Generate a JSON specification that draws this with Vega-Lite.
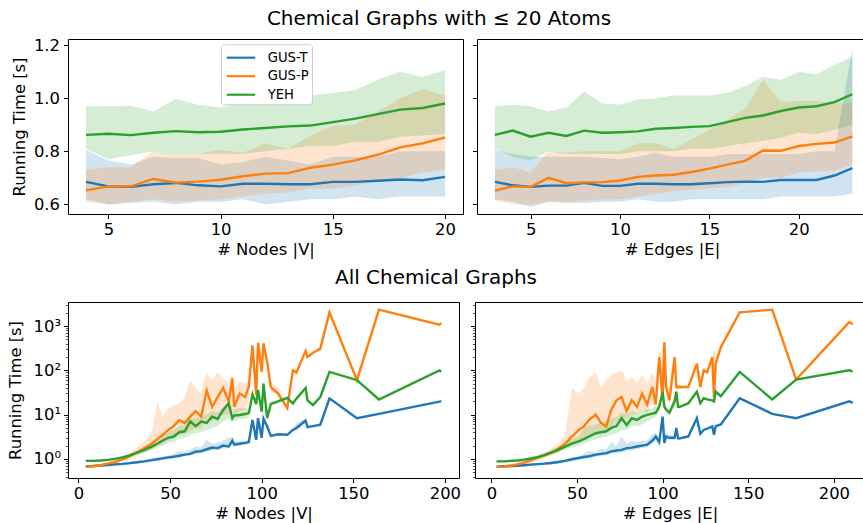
{
  "$schema": "https://vega.github.io/schema/vega-lite/v6.json",
  "padding": {"left": 6, "top": 8, "right": 0, "bottom": 0},
  "config": {
    "font": "DejaVu Sans",
    "view": {"stroke": "#000", "strokeWidth": 1},
    "axis": {
      "grid": false, "domain": false, "tickColor": "#000", "tickSize": 4.5, "tickWidth": 1,
      "labelFont": "DejaVu Sans", "labelFontSize": 16.4, "labelColor": "#000", "labelFlush": false, "labelOverlap": false,
      "titleFont": "DejaVu Sans", "titleFontSize": 16.4, "titleFontWeight": "normal", "titleColor": "#000"
    },
    "axisX": {"labelPadding": 3, "titlePadding": 4},
    "axisY": {"labelPadding": 4, "titlePadding": 6.4},
    "legend": {"labelFont": "DejaVu Sans"},
    "title": {"font": "DejaVu Sans", "fontSize": 20, "fontWeight": "normal", "color": "#000", "anchor": "middle", "offset": 8}
  },
  "datasets": {
    "nodes20": [
      {"method": "GUS-T", "x": 4, "mean": 0.685, "lo": 0.62, "hi": 0.805},
      {"method": "GUS-T", "x": 5, "mean": 0.668, "lo": 0.60, "hi": 0.765},
      {"method": "GUS-T", "x": 6, "mean": 0.666, "lo": 0.605, "hi": 0.75},
      {"method": "GUS-T", "x": 7, "mean": 0.676, "lo": 0.61, "hi": 0.78},
      {"method": "GUS-T", "x": 8, "mean": 0.681, "lo": 0.60, "hi": 0.775},
      {"method": "GUS-T", "x": 9, "mean": 0.672, "lo": 0.61, "hi": 0.775},
      {"method": "GUS-T", "x": 10, "mean": 0.668, "lo": 0.61, "hi": 0.75},
      {"method": "GUS-T", "x": 11, "mean": 0.678, "lo": 0.62, "hi": 0.76},
      {"method": "GUS-T", "x": 12, "mean": 0.678, "lo": 0.60, "hi": 0.78},
      {"method": "GUS-T", "x": 13, "mean": 0.676, "lo": 0.61, "hi": 0.765},
      {"method": "GUS-T", "x": 14, "mean": 0.676, "lo": 0.62, "hi": 0.75},
      {"method": "GUS-T", "x": 15, "mean": 0.685, "lo": 0.62, "hi": 0.78},
      {"method": "GUS-T", "x": 16, "mean": 0.685, "lo": 0.63, "hi": 0.78},
      {"method": "GUS-T", "x": 17, "mean": 0.689, "lo": 0.62, "hi": 0.78},
      {"method": "GUS-T", "x": 18, "mean": 0.694, "lo": 0.63, "hi": 0.80},
      {"method": "GUS-T", "x": 19, "mean": 0.691, "lo": 0.63, "hi": 0.80},
      {"method": "GUS-T", "x": 20, "mean": 0.704, "lo": 0.63, "hi": 0.80},
      {"method": "GUS-P", "x": 4, "mean": 0.653, "lo": 0.61, "hi": 0.73},
      {"method": "GUS-P", "x": 5, "mean": 0.668, "lo": 0.60, "hi": 0.74},
      {"method": "GUS-P", "x": 6, "mean": 0.668, "lo": 0.61, "hi": 0.74},
      {"method": "GUS-P", "x": 7, "mean": 0.696, "lo": 0.62, "hi": 0.80},
      {"method": "GUS-P", "x": 8, "mean": 0.682, "lo": 0.61, "hi": 0.785},
      {"method": "GUS-P", "x": 9, "mean": 0.686, "lo": 0.615, "hi": 0.79},
      {"method": "GUS-P", "x": 10, "mean": 0.693, "lo": 0.62, "hi": 0.805},
      {"method": "GUS-P", "x": 11, "mean": 0.706, "lo": 0.63, "hi": 0.795},
      {"method": "GUS-P", "x": 12, "mean": 0.716, "lo": 0.64, "hi": 0.83},
      {"method": "GUS-P", "x": 13, "mean": 0.718, "lo": 0.645, "hi": 0.81},
      {"method": "GUS-P", "x": 14, "mean": 0.738, "lo": 0.66, "hi": 0.86},
      {"method": "GUS-P", "x": 15, "mean": 0.75, "lo": 0.66, "hi": 0.895},
      {"method": "GUS-P", "x": 16, "mean": 0.766, "lo": 0.67, "hi": 0.90},
      {"method": "GUS-P", "x": 17, "mean": 0.787, "lo": 0.69, "hi": 0.95},
      {"method": "GUS-P", "x": 18, "mean": 0.815, "lo": 0.70, "hi": 1.0},
      {"method": "GUS-P", "x": 19, "mean": 0.83, "lo": 0.72, "hi": 1.035},
      {"method": "GUS-P", "x": 20, "mean": 0.852, "lo": 0.73, "hi": 1.01},
      {"method": "YEH", "x": 4, "mean": 0.862, "lo": 0.81, "hi": 0.97},
      {"method": "YEH", "x": 5, "mean": 0.866, "lo": 0.77, "hi": 0.97},
      {"method": "YEH", "x": 6, "mean": 0.861, "lo": 0.785, "hi": 0.972},
      {"method": "YEH", "x": 7, "mean": 0.87, "lo": 0.80, "hi": 0.95},
      {"method": "YEH", "x": 8, "mean": 0.876, "lo": 0.785, "hi": 0.997},
      {"method": "YEH", "x": 9, "mean": 0.872, "lo": 0.79, "hi": 0.975},
      {"method": "YEH", "x": 10, "mean": 0.874, "lo": 0.79, "hi": 0.965},
      {"method": "YEH", "x": 11, "mean": 0.882, "lo": 0.79, "hi": 0.99},
      {"method": "YEH", "x": 12, "mean": 0.888, "lo": 0.80, "hi": 1.0},
      {"method": "YEH", "x": 13, "mean": 0.894, "lo": 0.81, "hi": 1.01},
      {"method": "YEH", "x": 14, "mean": 0.897, "lo": 0.82, "hi": 1.01},
      {"method": "YEH", "x": 15, "mean": 0.91, "lo": 0.82, "hi": 1.02},
      {"method": "YEH", "x": 16, "mean": 0.923, "lo": 0.835, "hi": 1.03},
      {"method": "YEH", "x": 17, "mean": 0.94, "lo": 0.835, "hi": 1.07},
      {"method": "YEH", "x": 18, "mean": 0.957, "lo": 0.855, "hi": 1.1},
      {"method": "YEH", "x": 19, "mean": 0.963, "lo": 0.86, "hi": 1.08},
      {"method": "YEH", "x": 20, "mean": 0.98, "lo": 0.865, "hi": 1.105}
    ],
    "edges20": [
      {"method": "GUS-T", "x": 3, "mean": 0.685, "lo": 0.62, "hi": 0.805},
      {"method": "GUS-T", "x": 4, "mean": 0.672, "lo": 0.61, "hi": 0.79},
      {"method": "GUS-T", "x": 5, "mean": 0.666, "lo": 0.59, "hi": 0.78},
      {"method": "GUS-T", "x": 6, "mean": 0.671, "lo": 0.61, "hi": 0.78},
      {"method": "GUS-T", "x": 7, "mean": 0.671, "lo": 0.605, "hi": 0.78},
      {"method": "GUS-T", "x": 8, "mean": 0.681, "lo": 0.605, "hi": 0.78},
      {"method": "GUS-T", "x": 9, "mean": 0.67, "lo": 0.61, "hi": 0.775},
      {"method": "GUS-T", "x": 10, "mean": 0.67, "lo": 0.61, "hi": 0.77},
      {"method": "GUS-T", "x": 11, "mean": 0.678, "lo": 0.62, "hi": 0.78},
      {"method": "GUS-T", "x": 12, "mean": 0.678, "lo": 0.61, "hi": 0.795},
      {"method": "GUS-T", "x": 13, "mean": 0.676, "lo": 0.61, "hi": 0.78},
      {"method": "GUS-T", "x": 14, "mean": 0.676, "lo": 0.62, "hi": 0.78},
      {"method": "GUS-T", "x": 15, "mean": 0.68, "lo": 0.62, "hi": 0.78},
      {"method": "GUS-T", "x": 16, "mean": 0.684, "lo": 0.62, "hi": 0.79},
      {"method": "GUS-T", "x": 17, "mean": 0.686, "lo": 0.62, "hi": 0.79},
      {"method": "GUS-T", "x": 18, "mean": 0.685, "lo": 0.62, "hi": 0.79},
      {"method": "GUS-T", "x": 19, "mean": 0.692, "lo": 0.63, "hi": 0.79},
      {"method": "GUS-T", "x": 20, "mean": 0.692, "lo": 0.63, "hi": 0.79},
      {"method": "GUS-T", "x": 21, "mean": 0.692, "lo": 0.63, "hi": 0.80},
      {"method": "GUS-T", "x": 22, "mean": 0.709, "lo": 0.63, "hi": 0.80},
      {"method": "GUS-T", "x": 23, "mean": 0.737, "lo": 0.64, "hi": 1.19},
      {"method": "GUS-P", "x": 3, "mean": 0.652, "lo": 0.615, "hi": 0.73},
      {"method": "GUS-P", "x": 4, "mean": 0.668, "lo": 0.60, "hi": 0.74},
      {"method": "GUS-P", "x": 5, "mean": 0.666, "lo": 0.60, "hi": 0.72},
      {"method": "GUS-P", "x": 6, "mean": 0.70, "lo": 0.61, "hi": 0.80},
      {"method": "GUS-P", "x": 7, "mean": 0.68, "lo": 0.61, "hi": 0.795},
      {"method": "GUS-P", "x": 8, "mean": 0.683, "lo": 0.615, "hi": 0.80},
      {"method": "GUS-P", "x": 9, "mean": 0.684, "lo": 0.62, "hi": 0.80},
      {"method": "GUS-P", "x": 10, "mean": 0.69, "lo": 0.62, "hi": 0.80},
      {"method": "GUS-P", "x": 11, "mean": 0.704, "lo": 0.63, "hi": 0.83},
      {"method": "GUS-P", "x": 12, "mean": 0.709, "lo": 0.64, "hi": 0.83},
      {"method": "GUS-P", "x": 13, "mean": 0.712, "lo": 0.65, "hi": 0.81},
      {"method": "GUS-P", "x": 14, "mean": 0.722, "lo": 0.655, "hi": 0.845},
      {"method": "GUS-P", "x": 15, "mean": 0.735, "lo": 0.66, "hi": 0.88},
      {"method": "GUS-P", "x": 16, "mean": 0.75, "lo": 0.665, "hi": 0.92},
      {"method": "GUS-P", "x": 17, "mean": 0.764, "lo": 0.68, "hi": 0.96},
      {"method": "GUS-P", "x": 18, "mean": 0.803, "lo": 0.70, "hi": 1.07},
      {"method": "GUS-P", "x": 19, "mean": 0.802, "lo": 0.70, "hi": 0.985},
      {"method": "GUS-P", "x": 20, "mean": 0.82, "lo": 0.72, "hi": 0.99},
      {"method": "GUS-P", "x": 21, "mean": 0.828, "lo": 0.725, "hi": 0.99},
      {"method": "GUS-P", "x": 22, "mean": 0.833, "lo": 0.725, "hi": 0.98},
      {"method": "GUS-P", "x": 23, "mean": 0.856, "lo": 0.75, "hi": 0.985},
      {"method": "YEH", "x": 3, "mean": 0.862, "lo": 0.81, "hi": 0.97},
      {"method": "YEH", "x": 4, "mean": 0.878, "lo": 0.78, "hi": 0.975},
      {"method": "YEH", "x": 5, "mean": 0.855, "lo": 0.765, "hi": 0.97},
      {"method": "YEH", "x": 6, "mean": 0.87, "lo": 0.80, "hi": 0.95},
      {"method": "YEH", "x": 7, "mean": 0.858, "lo": 0.79, "hi": 0.965},
      {"method": "YEH", "x": 8, "mean": 0.878, "lo": 0.79, "hi": 1.025},
      {"method": "YEH", "x": 9, "mean": 0.87, "lo": 0.79, "hi": 0.98},
      {"method": "YEH", "x": 10, "mean": 0.872, "lo": 0.79, "hi": 0.975},
      {"method": "YEH", "x": 11, "mean": 0.875, "lo": 0.80, "hi": 0.995},
      {"method": "YEH", "x": 12, "mean": 0.885, "lo": 0.80, "hi": 1.0},
      {"method": "YEH", "x": 13, "mean": 0.888, "lo": 0.80, "hi": 1.01},
      {"method": "YEH", "x": 14, "mean": 0.892, "lo": 0.81, "hi": 1.01},
      {"method": "YEH", "x": 15, "mean": 0.895, "lo": 0.81, "hi": 1.01},
      {"method": "YEH", "x": 16, "mean": 0.91, "lo": 0.82, "hi": 1.02},
      {"method": "YEH", "x": 17, "mean": 0.926, "lo": 0.83, "hi": 1.045},
      {"method": "YEH", "x": 18, "mean": 0.935, "lo": 0.84, "hi": 1.08},
      {"method": "YEH", "x": 19, "mean": 0.952, "lo": 0.85, "hi": 1.07},
      {"method": "YEH", "x": 20, "mean": 0.965, "lo": 0.87, "hi": 1.1},
      {"method": "YEH", "x": 21, "mean": 0.97, "lo": 0.865, "hi": 1.09},
      {"method": "YEH", "x": 22, "mean": 0.985, "lo": 0.88, "hi": 1.125},
      {"method": "YEH", "x": 23, "mean": 1.015, "lo": 0.90, "hi": 1.155}
    ],
    "nodesAll": [
      {"method": "GUS-T", "x": 4, "mean": 0.68, "lo": 0.63, "hi": 0.73},
      {"method": "GUS-T", "x": 8, "mean": 0.69, "lo": 0.64, "hi": 0.74},
      {"method": "GUS-T", "x": 12, "mean": 0.71, "lo": 0.66, "hi": 0.76},
      {"method": "GUS-T", "x": 16, "mean": 0.73, "lo": 0.68, "hi": 0.78},
      {"method": "GUS-T", "x": 20, "mean": 0.75, "lo": 0.70, "hi": 0.80},
      {"method": "GUS-T", "x": 24, "mean": 0.77, "lo": 0.72, "hi": 0.83},
      {"method": "GUS-T", "x": 28, "mean": 0.80, "lo": 0.75, "hi": 0.86},
      {"method": "GUS-T", "x": 32, "mean": 0.84, "lo": 0.78, "hi": 0.90},
      {"method": "GUS-T", "x": 36, "mean": 0.88, "lo": 0.82, "hi": 0.95},
      {"method": "GUS-T", "x": 40, "mean": 0.94, "lo": 0.87, "hi": 1.02},
      {"method": "GUS-T", "x": 43, "mean": 0.98, "lo": 0.90, "hi": 1.07},
      {"method": "GUS-T", "x": 46, "mean": 1.03, "lo": 0.95, "hi": 1.13},
      {"method": "GUS-T", "x": 49, "mean": 1.08, "lo": 1.0, "hi": 1.2},
      {"method": "GUS-T", "x": 52, "mean": 1.12, "lo": 1.03, "hi": 1.3},
      {"method": "GUS-T", "x": 55, "mean": 1.18, "lo": 1.08, "hi": 1.5},
      {"method": "GUS-T", "x": 58, "mean": 1.25, "lo": 1.15, "hi": 1.45},
      {"method": "GUS-T", "x": 61, "mean": 1.3, "lo": 1.2, "hi": 1.6},
      {"method": "GUS-T", "x": 64, "mean": 1.45, "lo": 1.3, "hi": 1.9},
      {"method": "GUS-T", "x": 67, "mean": 1.5, "lo": 1.35, "hi": 1.8},
      {"method": "GUS-T", "x": 70, "mean": 1.65, "lo": 1.45, "hi": 2.7},
      {"method": "GUS-T", "x": 73, "mean": 1.8, "lo": 1.6, "hi": 2.2},
      {"method": "GUS-T", "x": 76, "mean": 1.75, "lo": 1.55, "hi": 2.3},
      {"method": "GUS-T", "x": 79, "mean": 2.0, "lo": 1.75, "hi": 2.6},
      {"method": "GUS-T", "x": 82, "mean": 1.9, "lo": 1.7, "hi": 3.0},
      {"method": "GUS-T", "x": 84, "mean": 2.6, "lo": 2.1, "hi": 3.2},
      {"method": "GUS-T", "x": 85, "mean": 2.1, "lo": 1.9, "hi": 2.5},
      {"method": "GUS-T", "x": 88, "mean": 2.2, "lo": 2.0, "hi": 2.5},
      {"method": "GUS-T", "x": 91, "mean": 2.3, "lo": 2.1, "hi": 2.6},
      {"method": "GUS-T", "x": 93, "mean": 2.4, "lo": 2.2, "hi": 2.7},
      {"method": "GUS-T", "x": 95, "mean": 7.6, "lo": 6.5, "hi": 8.5},
      {"method": "GUS-T", "x": 97, "mean": 2.7, "lo": 2.4, "hi": 3.0},
      {"method": "GUS-T", "x": 98, "mean": 8.3, "lo": 7.5, "hi": 9},
      {"method": "GUS-T", "x": 100, "mean": 3.0, "lo": 2.7, "hi": 3.4},
      {"method": "GUS-T", "x": 101, "mean": 8.1, "lo": 7.3, "hi": 9},
      {"method": "GUS-T", "x": 103, "mean": 5.4, "lo": 5.0, "hi": 6.0},
      {"method": "GUS-T", "x": 105, "mean": 3.3, "lo": 3.1, "hi": 3.5},
      {"method": "GUS-T", "x": 109, "mean": 3.6, "lo": 3.4, "hi": 3.8},
      {"method": "GUS-T", "x": 114, "mean": 3.5, "lo": 3.3, "hi": 3.7},
      {"method": "GUS-T", "x": 117, "mean": 4.5, "lo": 4.2, "hi": 4.8},
      {"method": "GUS-T", "x": 119, "mean": 5.0, "lo": 4.4, "hi": 6.5},
      {"method": "GUS-T", "x": 124, "mean": 7.3, "lo": 6.5, "hi": 8.3},
      {"method": "GUS-T", "x": 125, "mean": 5.2, "lo": 5.0, "hi": 5.5},
      {"method": "GUS-T", "x": 128, "mean": 5.5, "lo": 5.3, "hi": 5.7},
      {"method": "GUS-T", "x": 132, "mean": 5.9, "lo": 5.7, "hi": 6.1},
      {"method": "GUS-T", "x": 137, "mean": 23.3, "lo": 22, "hi": 24.5},
      {"method": "GUS-T", "x": 152, "mean": 8.3, "lo": 8.0, "hi": 8.6},
      {"method": "GUS-T", "x": 164, "mean": 10.4, "lo": 10.2, "hi": 10.6},
      {"method": "GUS-T", "x": 197, "mean": 19.6, "lo": 19, "hi": 20.2},
      {"method": "GUS-T", "x": 198, "mean": 20, "lo": 20, "hi": 20},
      {"method": "GUS-P", "x": 4, "mean": 0.66, "lo": 0.62, "hi": 0.70},
      {"method": "GUS-P", "x": 8, "mean": 0.68, "lo": 0.64, "hi": 0.72},
      {"method": "GUS-P", "x": 12, "mean": 0.72, "lo": 0.67, "hi": 0.77},
      {"method": "GUS-P", "x": 16, "mean": 0.78, "lo": 0.72, "hi": 0.85},
      {"method": "GUS-P", "x": 20, "mean": 0.85, "lo": 0.78, "hi": 0.95},
      {"method": "GUS-P", "x": 24, "mean": 0.98, "lo": 0.88, "hi": 1.12},
      {"method": "GUS-P", "x": 28, "mean": 1.15, "lo": 1.0, "hi": 1.4},
      {"method": "GUS-P", "x": 32, "mean": 1.4, "lo": 1.15, "hi": 1.8},
      {"method": "GUS-P", "x": 36, "mean": 1.75, "lo": 1.4, "hi": 2.5},
      {"method": "GUS-P", "x": 40, "mean": 2.2, "lo": 1.6, "hi": 4},
      {"method": "GUS-P", "x": 43, "mean": 2.8, "lo": 1.9, "hi": 20},
      {"method": "GUS-P", "x": 46, "mean": 3.5, "lo": 2.2, "hi": 9},
      {"method": "GUS-P", "x": 49, "mean": 4.5, "lo": 2.6, "hi": 14},
      {"method": "GUS-P", "x": 52, "mean": 5.5, "lo": 3.0, "hi": 16},
      {"method": "GUS-P", "x": 55, "mean": 7.5, "lo": 3.5, "hi": 18},
      {"method": "GUS-P", "x": 58, "mean": 6.5, "lo": 3.8, "hi": 25},
      {"method": "GUS-P", "x": 61, "mean": 9, "lo": 4.2, "hi": 60},
      {"method": "GUS-P", "x": 64, "mean": 12, "lo": 5, "hi": 40},
      {"method": "GUS-P", "x": 67, "mean": 9, "lo": 5, "hi": 30},
      {"method": "GUS-P", "x": 70, "mean": 35, "lo": 8, "hi": 90},
      {"method": "GUS-P", "x": 73, "mean": 15, "lo": 7, "hi": 60},
      {"method": "GUS-P", "x": 76, "mean": 25, "lo": 9, "hi": 90},
      {"method": "GUS-P", "x": 79, "mean": 40, "lo": 10, "hi": 70},
      {"method": "GUS-P", "x": 82, "mean": 20, "lo": 10, "hi": 50},
      {"method": "GUS-P", "x": 84, "mean": 66, "lo": 15, "hi": 90},
      {"method": "GUS-P", "x": 85, "mean": 15, "lo": 9, "hi": 40},
      {"method": "GUS-P", "x": 88, "mean": 30, "lo": 12, "hi": 55},
      {"method": "GUS-P", "x": 91, "mean": 25, "lo": 13, "hi": 50},
      {"method": "GUS-P", "x": 93, "mean": 43, "lo": 18, "hi": 60},
      {"method": "GUS-P", "x": 95, "mean": 366, "lo": 330, "hi": 390},
      {"method": "GUS-P", "x": 97, "mean": 28, "lo": 24, "hi": 32},
      {"method": "GUS-P", "x": 98, "mean": 420, "lo": 390, "hi": 440},
      {"method": "GUS-P", "x": 100, "mean": 93, "lo": 85, "hi": 100},
      {"method": "GUS-P", "x": 101, "mean": 410, "lo": 380, "hi": 430},
      {"method": "GUS-P", "x": 103, "mean": 155, "lo": 140, "hi": 170},
      {"method": "GUS-P", "x": 105, "mean": 42, "lo": 35, "hi": 55},
      {"method": "GUS-P", "x": 109, "mean": 30, "lo": 25, "hi": 40},
      {"method": "GUS-P", "x": 114, "mean": 14, "lo": 13, "hi": 16},
      {"method": "GUS-P", "x": 117, "mean": 100, "lo": 85, "hi": 110},
      {"method": "GUS-P", "x": 119, "mean": 90, "lo": 75, "hi": 100},
      {"method": "GUS-P", "x": 124, "mean": 275, "lo": 250, "hi": 290},
      {"method": "GUS-P", "x": 125, "mean": 200, "lo": 190, "hi": 210},
      {"method": "GUS-P", "x": 128, "mean": 250, "lo": 240, "hi": 260},
      {"method": "GUS-P", "x": 132, "mean": 310, "lo": 300, "hi": 320},
      {"method": "GUS-P", "x": 137, "mean": 2040, "lo": 2000, "hi": 2080},
      {"method": "GUS-P", "x": 152, "mean": 60, "lo": 58, "hi": 62},
      {"method": "GUS-P", "x": 164, "mean": 2350, "lo": 2350, "hi": 2350},
      {"method": "GUS-P", "x": 197, "mean": 1070, "lo": 1050, "hi": 1090},
      {"method": "GUS-P", "x": 198, "mean": 1180, "lo": 1180, "hi": 1180},
      {"method": "YEH", "x": 4, "mean": 0.9, "lo": 0.86, "hi": 0.95},
      {"method": "YEH", "x": 8, "mean": 0.9, "lo": 0.86, "hi": 0.95},
      {"method": "YEH", "x": 12, "mean": 0.92, "lo": 0.87, "hi": 0.97},
      {"method": "YEH", "x": 16, "mean": 0.95, "lo": 0.9, "hi": 1.0},
      {"method": "YEH", "x": 20, "mean": 1.0, "lo": 0.94, "hi": 1.06},
      {"method": "YEH", "x": 24, "mean": 1.08, "lo": 1.0, "hi": 1.15},
      {"method": "YEH", "x": 28, "mean": 1.2, "lo": 1.1, "hi": 1.3},
      {"method": "YEH", "x": 32, "mean": 1.38, "lo": 1.25, "hi": 1.5},
      {"method": "YEH", "x": 36, "mean": 1.6, "lo": 1.4, "hi": 1.8},
      {"method": "YEH", "x": 40, "mean": 1.9, "lo": 1.6, "hi": 2.3},
      {"method": "YEH", "x": 43, "mean": 2.2, "lo": 1.8, "hi": 2.8},
      {"method": "YEH", "x": 46, "mean": 2.6, "lo": 2.0, "hi": 3.4},
      {"method": "YEH", "x": 49, "mean": 3.0, "lo": 2.3, "hi": 4},
      {"method": "YEH", "x": 52, "mean": 3.2, "lo": 2.4, "hi": 4.5},
      {"method": "YEH", "x": 55, "mean": 4.0, "lo": 2.8, "hi": 5.5},
      {"method": "YEH", "x": 58, "mean": 4.2, "lo": 3.0, "hi": 6},
      {"method": "YEH", "x": 61, "mean": 7, "lo": 3.5, "hi": 8.5},
      {"method": "YEH", "x": 64, "mean": 5.5, "lo": 3.8, "hi": 8},
      {"method": "YEH", "x": 67, "mean": 7, "lo": 4, "hi": 9},
      {"method": "YEH", "x": 70, "mean": 6.5, "lo": 4.5, "hi": 10},
      {"method": "YEH", "x": 73, "mean": 9, "lo": 5, "hi": 12},
      {"method": "YEH", "x": 76, "mean": 8, "lo": 5.5, "hi": 11},
      {"method": "YEH", "x": 79, "mean": 12.8, "lo": 7, "hi": 15},
      {"method": "YEH", "x": 82, "mean": 18, "lo": 8, "hi": 20},
      {"method": "YEH", "x": 84, "mean": 8.3, "lo": 7, "hi": 14},
      {"method": "YEH", "x": 85, "mean": 9.5, "lo": 7, "hi": 13},
      {"method": "YEH", "x": 88, "mean": 9.8, "lo": 8, "hi": 14},
      {"method": "YEH", "x": 91, "mean": 10.3, "lo": 8, "hi": 14},
      {"method": "YEH", "x": 93, "mean": 10.8, "lo": 9, "hi": 13},
      {"method": "YEH", "x": 95, "mean": 29, "lo": 26, "hi": 32},
      {"method": "YEH", "x": 97, "mean": 17.4, "lo": 15, "hi": 20},
      {"method": "YEH", "x": 98, "mean": 36, "lo": 33, "hi": 39},
      {"method": "YEH", "x": 100, "mean": 11.7, "lo": 10.5, "hi": 13},
      {"method": "YEH", "x": 101, "mean": 50, "lo": 45, "hi": 55},
      {"method": "YEH", "x": 103, "mean": 8.3, "lo": 7.5, "hi": 9},
      {"method": "YEH", "x": 105, "mean": 17.4, "lo": 16, "hi": 19},
      {"method": "YEH", "x": 109, "mean": 20, "lo": 18, "hi": 22},
      {"method": "YEH", "x": 114, "mean": 24, "lo": 22, "hi": 26},
      {"method": "YEH", "x": 117, "mean": 18, "lo": 17, "hi": 19},
      {"method": "YEH", "x": 119, "mean": 23, "lo": 21, "hi": 25},
      {"method": "YEH", "x": 124, "mean": 40, "lo": 37, "hi": 43},
      {"method": "YEH", "x": 125, "mean": 21, "lo": 20, "hi": 22},
      {"method": "YEH", "x": 128, "mean": 16.5, "lo": 16, "hi": 17},
      {"method": "YEH", "x": 132, "mean": 25, "lo": 24, "hi": 26},
      {"method": "YEH", "x": 137, "mean": 92, "lo": 90, "hi": 95},
      {"method": "YEH", "x": 152, "mean": 60, "lo": 58, "hi": 62},
      {"method": "YEH", "x": 164, "mean": 22, "lo": 22, "hi": 22},
      {"method": "YEH", "x": 197, "mean": 100, "lo": 98, "hi": 102},
      {"method": "YEH", "x": 198, "mean": 92, "lo": 92, "hi": 92}
    ],
    "edgesAll": [
      {"method": "GUS-T", "x": 3, "mean": 0.67, "lo": 0.62, "hi": 0.72},
      {"method": "GUS-T", "x": 7, "mean": 0.68, "lo": 0.63, "hi": 0.73},
      {"method": "GUS-T", "x": 11, "mean": 0.69, "lo": 0.64, "hi": 0.74},
      {"method": "GUS-T", "x": 15, "mean": 0.70, "lo": 0.65, "hi": 0.76},
      {"method": "GUS-T", "x": 19, "mean": 0.72, "lo": 0.67, "hi": 0.78},
      {"method": "GUS-T", "x": 23, "mean": 0.74, "lo": 0.69, "hi": 0.80},
      {"method": "GUS-T", "x": 27, "mean": 0.76, "lo": 0.71, "hi": 0.82},
      {"method": "GUS-T", "x": 31, "mean": 0.78, "lo": 0.72, "hi": 0.85},
      {"method": "GUS-T", "x": 35, "mean": 0.81, "lo": 0.75, "hi": 0.88},
      {"method": "GUS-T", "x": 39, "mean": 0.85, "lo": 0.78, "hi": 0.92},
      {"method": "GUS-T", "x": 43, "mean": 0.90, "lo": 0.82, "hi": 0.98},
      {"method": "GUS-T", "x": 47, "mean": 0.98, "lo": 0.9, "hi": 1.07},
      {"method": "GUS-T", "x": 51, "mean": 1.05, "lo": 0.95, "hi": 1.15},
      {"method": "GUS-T", "x": 54, "mean": 1.1, "lo": 1.0, "hi": 1.3},
      {"method": "GUS-T", "x": 57, "mean": 1.15, "lo": 1.05, "hi": 1.5},
      {"method": "GUS-T", "x": 61, "mean": 1.25, "lo": 1.12, "hi": 1.45},
      {"method": "GUS-T", "x": 64, "mean": 1.3, "lo": 1.17, "hi": 1.7},
      {"method": "GUS-T", "x": 67, "mean": 1.35, "lo": 1.2, "hi": 1.6},
      {"method": "GUS-T", "x": 70, "mean": 1.48, "lo": 1.3, "hi": 2.4},
      {"method": "GUS-T", "x": 73, "mean": 1.55, "lo": 1.35, "hi": 1.9},
      {"method": "GUS-T", "x": 76, "mean": 1.6, "lo": 1.4, "hi": 3.2},
      {"method": "GUS-T", "x": 79, "mean": 1.75, "lo": 1.5, "hi": 2.2},
      {"method": "GUS-T", "x": 82, "mean": 1.8, "lo": 1.55, "hi": 2.6},
      {"method": "GUS-T", "x": 85, "mean": 1.9, "lo": 1.65, "hi": 2.4},
      {"method": "GUS-T", "x": 88, "mean": 2.0, "lo": 1.75, "hi": 2.6},
      {"method": "GUS-T", "x": 91, "mean": 2.1, "lo": 1.85, "hi": 2.6},
      {"method": "GUS-T", "x": 94, "mean": 2.6, "lo": 2.2, "hi": 3.6},
      {"method": "GUS-T", "x": 96, "mean": 3.2, "lo": 2.6, "hi": 4.0},
      {"method": "GUS-T", "x": 98, "mean": 2.4, "lo": 2.1, "hi": 3},
      {"method": "GUS-T", "x": 100, "mean": 9.0, "lo": 7.5, "hi": 10},
      {"method": "GUS-T", "x": 101, "mean": 2.3, "lo": 2.0, "hi": 3},
      {"method": "GUS-T", "x": 102, "mean": 3.2, "lo": 2.8, "hi": 3.8},
      {"method": "GUS-T", "x": 104, "mean": 3.0, "lo": 2.7, "hi": 3.4},
      {"method": "GUS-T", "x": 107, "mean": 3.0, "lo": 2.7, "hi": 3.4},
      {"method": "GUS-T", "x": 108, "mean": 5.0, "lo": 4.5, "hi": 5.5},
      {"method": "GUS-T", "x": 109, "mean": 2.9, "lo": 2.7, "hi": 3.2},
      {"method": "GUS-T", "x": 110, "mean": 2.9, "lo": 2.7, "hi": 3.1},
      {"method": "GUS-T", "x": 115, "mean": 3.2, "lo": 3.0, "hi": 3.4},
      {"method": "GUS-T", "x": 120, "mean": 8.3, "lo": 7.5, "hi": 9},
      {"method": "GUS-T", "x": 122, "mean": 3.7, "lo": 3.4, "hi": 4},
      {"method": "GUS-T", "x": 124, "mean": 4.5, "lo": 4.2, "hi": 4.8},
      {"method": "GUS-T", "x": 126, "mean": 4.8, "lo": 4.5, "hi": 5.1},
      {"method": "GUS-T", "x": 129, "mean": 5.4, "lo": 5.0, "hi": 5.8},
      {"method": "GUS-T", "x": 130, "mean": 3.5, "lo": 3.2, "hi": 3.8},
      {"method": "GUS-T", "x": 131, "mean": 5.5, "lo": 5.1, "hi": 5.9},
      {"method": "GUS-T", "x": 134, "mean": 6.0, "lo": 5.6, "hi": 6.4},
      {"method": "GUS-T", "x": 145, "mean": 23.5, "lo": 22.5, "hi": 24.5},
      {"method": "GUS-T", "x": 164, "mean": 10.4, "lo": 10.2, "hi": 10.6},
      {"method": "GUS-T", "x": 178, "mean": 8.3, "lo": 8.1, "hi": 8.5},
      {"method": "GUS-T", "x": 209, "mean": 20, "lo": 19.5, "hi": 20.5},
      {"method": "GUS-T", "x": 211, "mean": 18.5, "lo": 18.5, "hi": 18.5},
      {"method": "GUS-P", "x": 3, "mean": 0.66, "lo": 0.62, "hi": 0.70},
      {"method": "GUS-P", "x": 7, "mean": 0.67, "lo": 0.63, "hi": 0.71},
      {"method": "GUS-P", "x": 11, "mean": 0.70, "lo": 0.65, "hi": 0.75},
      {"method": "GUS-P", "x": 15, "mean": 0.75, "lo": 0.69, "hi": 0.81},
      {"method": "GUS-P", "x": 19, "mean": 0.82, "lo": 0.75, "hi": 0.90},
      {"method": "GUS-P", "x": 23, "mean": 0.92, "lo": 0.83, "hi": 1.02},
      {"method": "GUS-P", "x": 27, "mean": 1.05, "lo": 0.93, "hi": 1.2},
      {"method": "GUS-P", "x": 31, "mean": 1.2, "lo": 1.05, "hi": 1.4},
      {"method": "GUS-P", "x": 35, "mean": 1.4, "lo": 1.2, "hi": 1.7},
      {"method": "GUS-P", "x": 39, "mean": 1.7, "lo": 1.4, "hi": 2.2},
      {"method": "GUS-P", "x": 43, "mean": 2.2, "lo": 1.7, "hi": 3.5},
      {"method": "GUS-P", "x": 47, "mean": 3.2, "lo": 2.1, "hi": 40},
      {"method": "GUS-P", "x": 51, "mean": 4.5, "lo": 2.6, "hi": 30},
      {"method": "GUS-P", "x": 54, "mean": 5.4, "lo": 2.9, "hi": 40},
      {"method": "GUS-P", "x": 57, "mean": 7.6, "lo": 3.3, "hi": 70},
      {"method": "GUS-P", "x": 61, "mean": 9.9, "lo": 3.7, "hi": 90},
      {"method": "GUS-P", "x": 64, "mean": 6.5, "lo": 4, "hi": 40},
      {"method": "GUS-P", "x": 67, "mean": 5.4, "lo": 4.5, "hi": 60},
      {"method": "GUS-P", "x": 70, "mean": 12.8, "lo": 5.5, "hi": 80},
      {"method": "GUS-P", "x": 73, "mean": 21, "lo": 7, "hi": 90},
      {"method": "GUS-P", "x": 76, "mean": 25, "lo": 8, "hi": 100},
      {"method": "GUS-P", "x": 79, "mean": 12, "lo": 8, "hi": 60},
      {"method": "GUS-P", "x": 82, "mean": 21, "lo": 10, "hi": 70},
      {"method": "GUS-P", "x": 85, "mean": 15, "lo": 10, "hi": 50},
      {"method": "GUS-P", "x": 88, "mean": 30, "lo": 13, "hi": 80},
      {"method": "GUS-P", "x": 91, "mean": 17, "lo": 11, "hi": 50},
      {"method": "GUS-P", "x": 94, "mean": 42, "lo": 18, "hi": 90},
      {"method": "GUS-P", "x": 96, "mean": 17, "lo": 13, "hi": 60},
      {"method": "GUS-P", "x": 98, "mean": 200, "lo": 150, "hi": 230},
      {"method": "GUS-P", "x": 100, "mean": 21, "lo": 17, "hi": 300},
      {"method": "GUS-P", "x": 101, "mean": 435, "lo": 400, "hi": 460},
      {"method": "GUS-P", "x": 102, "mean": 42, "lo": 30, "hi": 60},
      {"method": "GUS-P", "x": 104, "mean": 21, "lo": 17, "hi": 40},
      {"method": "GUS-P", "x": 107, "mean": 200, "lo": 170, "hi": 230},
      {"method": "GUS-P", "x": 108, "mean": 42, "lo": 35, "hi": 50},
      {"method": "GUS-P", "x": 109, "mean": 42, "lo": 36, "hi": 48},
      {"method": "GUS-P", "x": 110, "mean": 42, "lo": 38, "hi": 46},
      {"method": "GUS-P", "x": 115, "mean": 42, "lo": 40, "hi": 44},
      {"method": "GUS-P", "x": 120, "mean": 142, "lo": 130, "hi": 155},
      {"method": "GUS-P", "x": 122, "mean": 42, "lo": 38, "hi": 46},
      {"method": "GUS-P", "x": 124, "mean": 100, "lo": 90, "hi": 110},
      {"method": "GUS-P", "x": 126, "mean": 90, "lo": 85, "hi": 95},
      {"method": "GUS-P", "x": 129, "mean": 200, "lo": 180, "hi": 220},
      {"method": "GUS-P", "x": 130, "mean": 25, "lo": 22, "hi": 300},
      {"method": "GUS-P", "x": 131, "mean": 142, "lo": 120, "hi": 200},
      {"method": "GUS-P", "x": 134, "mean": 335, "lo": 300, "hi": 360},
      {"method": "GUS-P", "x": 145, "mean": 2040, "lo": 2000, "hi": 2080},
      {"method": "GUS-P", "x": 164, "mean": 2350, "lo": 2300, "hi": 2400},
      {"method": "GUS-P", "x": 178, "mean": 62, "lo": 60, "hi": 64},
      {"method": "GUS-P", "x": 209, "mean": 1230, "lo": 1200, "hi": 1260},
      {"method": "GUS-P", "x": 211, "mean": 1100, "lo": 1100, "hi": 1100},
      {"method": "YEH", "x": 3, "mean": 0.88, "lo": 0.84, "hi": 0.93},
      {"method": "YEH", "x": 7, "mean": 0.88, "lo": 0.84, "hi": 0.93},
      {"method": "YEH", "x": 11, "mean": 0.9, "lo": 0.85, "hi": 0.95},
      {"method": "YEH", "x": 15, "mean": 0.92, "lo": 0.87, "hi": 0.98},
      {"method": "YEH", "x": 19, "mean": 0.96, "lo": 0.9, "hi": 1.02},
      {"method": "YEH", "x": 23, "mean": 1.02, "lo": 0.95, "hi": 1.1},
      {"method": "YEH", "x": 27, "mean": 1.1, "lo": 1.02, "hi": 1.2},
      {"method": "YEH", "x": 31, "mean": 1.22, "lo": 1.1, "hi": 1.35},
      {"method": "YEH", "x": 35, "mean": 1.38, "lo": 1.25, "hi": 1.55},
      {"method": "YEH", "x": 39, "mean": 1.6, "lo": 1.4, "hi": 1.85},
      {"method": "YEH", "x": 43, "mean": 1.9, "lo": 1.6, "hi": 2.3},
      {"method": "YEH", "x": 47, "mean": 2.2, "lo": 1.8, "hi": 2.8},
      {"method": "YEH", "x": 51, "mean": 2.5, "lo": 2.0, "hi": 3.3},
      {"method": "YEH", "x": 54, "mean": 2.8, "lo": 2.2, "hi": 5},
      {"method": "YEH", "x": 57, "mean": 3.2, "lo": 2.4, "hi": 5.5},
      {"method": "YEH", "x": 61, "mean": 3.8, "lo": 2.8, "hi": 6},
      {"method": "YEH", "x": 64, "mean": 4.0, "lo": 3.0, "hi": 6.5},
      {"method": "YEH", "x": 67, "mean": 4.2, "lo": 3.2, "hi": 7},
      {"method": "YEH", "x": 70, "mean": 5.0, "lo": 3.5, "hi": 8},
      {"method": "YEH", "x": 73, "mean": 5.5, "lo": 3.8, "hi": 9},
      {"method": "YEH", "x": 76, "mean": 8.3, "lo": 4.5, "hi": 11},
      {"method": "YEH", "x": 79, "mean": 5.8, "lo": 4.5, "hi": 10},
      {"method": "YEH", "x": 82, "mean": 8.3, "lo": 5.5, "hi": 12},
      {"method": "YEH", "x": 85, "mean": 7.6, "lo": 5.5, "hi": 11},
      {"method": "YEH", "x": 88, "mean": 9, "lo": 6, "hi": 13},
      {"method": "YEH", "x": 91, "mean": 9.9, "lo": 7, "hi": 13},
      {"method": "YEH", "x": 94, "mean": 10.5, "lo": 8, "hi": 14},
      {"method": "YEH", "x": 96, "mean": 11, "lo": 9, "hi": 15},
      {"method": "YEH", "x": 98, "mean": 15, "lo": 12, "hi": 18},
      {"method": "YEH", "x": 100, "mean": 33, "lo": 28, "hi": 38},
      {"method": "YEH", "x": 101, "mean": 15, "lo": 13, "hi": 18},
      {"method": "YEH", "x": 102, "mean": 13, "lo": 11, "hi": 16},
      {"method": "YEH", "x": 104, "mean": 11, "lo": 10, "hi": 13},
      {"method": "YEH", "x": 107, "mean": 20, "lo": 17, "hi": 25},
      {"method": "YEH", "x": 108, "mean": 33, "lo": 28, "hi": 36},
      {"method": "YEH", "x": 109, "mean": 15, "lo": 13, "hi": 17},
      {"method": "YEH", "x": 110, "mean": 15, "lo": 14, "hi": 16},
      {"method": "YEH", "x": 115, "mean": 18, "lo": 17, "hi": 19},
      {"method": "YEH", "x": 120, "mean": 33, "lo": 30, "hi": 35},
      {"method": "YEH", "x": 122, "mean": 18, "lo": 17, "hi": 19},
      {"method": "YEH", "x": 124, "mean": 23.5, "lo": 22, "hi": 25},
      {"method": "YEH", "x": 126, "mean": 22, "lo": 21, "hi": 23},
      {"method": "YEH", "x": 129, "mean": 21, "lo": 20, "hi": 22},
      {"method": "YEH", "x": 130, "mean": 20, "lo": 18, "hi": 30},
      {"method": "YEH", "x": 131, "mean": 33, "lo": 30, "hi": 36},
      {"method": "YEH", "x": 134, "mean": 26, "lo": 25, "hi": 27},
      {"method": "YEH", "x": 145, "mean": 92, "lo": 90, "hi": 95},
      {"method": "YEH", "x": 164, "mean": 22, "lo": 21.5, "hi": 22.5},
      {"method": "YEH", "x": 178, "mean": 62, "lo": 60, "hi": 64},
      {"method": "YEH", "x": 209, "mean": 100, "lo": 98, "hi": 102},
      {"method": "YEH", "x": 211, "mean": 95, "lo": 95, "hi": 95}
    ]
  },
  "vconcat": [
    {
      "title": {"text": "Chemical Graphs with ≤ 20 Atoms"},
      "spacing": 7,
      "resolve": {"legend": {"stroke": "independent"}},
      "hconcat": [
        {
          "width": 395, "height": 175,
          "data": {"name": "nodes20"},
          "encoding": {
            "x": {"field": "x", "type": "quantitative", "title": "# Nodes |V|", "scale": {"domain": [3.2, 20.8], "nice": false, "zero": false}, "axis": {"values": [5, 10, 15, 20]}}
          },
          "layer": [
            {
              "mark": {"type": "area", "opacity": 0.2},
              "encoding": {
                "y": {"field": "lo", "type": "quantitative", "title": "Running Time [s]", "scale": {"domain": [0.564, 1.223], "nice": false, "zero": false}, "axis": {"values": [0.6, 0.8, 1.0, 1.2], "format": ".1f"}},
                "y2": {"field": "hi"},
                "fill": {"field": "method", "type": "nominal", "scale": {"domain": ["GUS-T", "GUS-P", "YEH"], "range": ["#1f77b4", "#ff7f0e", "#2ca02c"]}, "legend": null}
              }
            },
            {
              "mark": {"type": "line", "strokeWidth": 2.4},
              "encoding": {
                "y": {"field": "mean", "type": "quantitative", "title": "Running Time [s]", "scale": {"domain": [0.564, 1.223], "nice": false, "zero": false}, "axis": {"values": [0.6, 0.8, 1.0, 1.2], "format": ".1f"}},
                "stroke": {"field": "method", "type": "nominal", "scale": {"domain": ["GUS-T", "GUS-P", "YEH"], "range": ["#1f77b4", "#ff7f0e", "#2ca02c"]},
                  "legend": {"orient": "none", "legendX": 153, "legendY": 5.2, "title": null, "symbolType": "M-1.58,0H1.58", "symbolStrokeWidth": 2.2, "symbolSize": 324, "symbolOffset": 6.5, "symbolOpacity": 1, "labelFontSize": 13.2, "labelColor": "#000", "labelOffset": 16.2, "rowPadding": 1.5, "padding": 3, "fillColor": "#fff", "strokeColor": "#d0d0d0", "cornerRadius": 3}}
              }
            }
          ]
        },
        {
          "width": 390, "height": 175,
          "data": {"name": "edges20"},
          "encoding": {
            "x": {"field": "x", "type": "quantitative", "title": "# Edges |E|", "scale": {"domain": [2, 23.82], "nice": false, "zero": false}, "axis": {"values": [5, 10, 15, 20]}}
          },
          "layer": [
            {
              "mark": {"type": "area", "opacity": 0.2},
              "encoding": {
                "y": {"field": "lo", "type": "quantitative", "title": null, "scale": {"domain": [0.564, 1.223], "nice": false, "zero": false}, "axis": {"values": [0.6, 0.8, 1.0, 1.2], "labels": false}},
                "y2": {"field": "hi"},
                "fill": {"field": "method", "type": "nominal", "scale": {"domain": ["GUS-T", "GUS-P", "YEH"], "range": ["#1f77b4", "#ff7f0e", "#2ca02c"]}, "legend": null}
              }
            },
            {
              "mark": {"type": "line", "strokeWidth": 2.4},
              "encoding": {
                "y": {"field": "mean", "type": "quantitative", "title": null, "scale": {"domain": [0.564, 1.223], "nice": false, "zero": false}, "axis": {"values": [0.6, 0.8, 1.0, 1.2], "labels": false}},
                "stroke": {"field": "method", "type": "nominal", "scale": {"domain": ["GUS-T", "GUS-P", "YEH"], "range": ["#1f77b4", "#ff7f0e", "#2ca02c"]}, "legend": null}
              }
            }
          ]
        }
      ]
    },
    {
      "title": {"text": "All Chemical Graphs"},
      "spacing": 7,
      "resolve": {"legend": {"stroke": "independent"}},
      "hconcat": [
        {
          "width": 391, "height": 176,
          "data": {"name": "nodesAll"},
          "encoding": {
            "x": {"field": "x", "type": "quantitative", "title": "# Nodes |V|", "scale": {"domain": [-5.7, 207.7], "nice": false, "zero": false}, "axis": {"values": [0, 50, 100, 150, 200]}}
          },
          "layer": [
            {
              "mark": {"type": "area", "opacity": 0.2},
              "encoding": {
                "y": {"field": "lo", "type": "quantitative", "title": "Running Time [s]", "scale": {"type": "log", "domain": [0.37, 3500], "nice": false},
                  "axis": {"values": [0.4, 0.5, 0.6, 0.7, 0.8, 0.9, 1, 2, 3, 4, 5, 6, 7, 8, 9, 10, 20, 30, 40, 50, 60, 70, 80, 90, 100, 200, 300, 400, 500, 600, 700, 800, 900, 1000, 2000, 3000],
                    "labelExpr": "datum.value == 1 ? '10⁰' : datum.value == 10 ? '10¹' : datum.value == 100 ? '10²' : datum.value == 1000 ? '10³' : ''",
                    "labelPadding": 3, "minExtent": 38.6,
                    "tickSize": {"condition": {"test": "indexof([1, 10, 100, 1000], datum.value) >= 0", "value": 4.5}, "value": 2.6},
                    "tickWidth": {"condition": {"test": "indexof([1, 10, 100, 1000], datum.value) >= 0", "value": 1}, "value": 0.7}}},
                "y2": {"field": "hi"},
                "fill": {"field": "method", "type": "nominal", "scale": {"domain": ["GUS-T", "GUS-P", "YEH"], "range": ["#1f77b4", "#ff7f0e", "#2ca02c"]}, "legend": null}
              }
            },
            {
              "mark": {"type": "line", "strokeWidth": 2.4},
              "encoding": {
                "y": {"field": "mean", "type": "quantitative", "title": "Running Time [s]", "scale": {"type": "log", "domain": [0.37, 3500], "nice": false},
                  "axis": {"values": [0.4, 0.5, 0.6, 0.7, 0.8, 0.9, 1, 2, 3, 4, 5, 6, 7, 8, 9, 10, 20, 30, 40, 50, 60, 70, 80, 90, 100, 200, 300, 400, 500, 600, 700, 800, 900, 1000, 2000, 3000],
                    "labelExpr": "datum.value == 1 ? '10⁰' : datum.value == 10 ? '10¹' : datum.value == 100 ? '10²' : datum.value == 1000 ? '10³' : ''",
                    "labelPadding": 3, "minExtent": 38.6,
                    "tickSize": {"condition": {"test": "indexof([1, 10, 100, 1000], datum.value) >= 0", "value": 4.5}, "value": 2.6},
                    "tickWidth": {"condition": {"test": "indexof([1, 10, 100, 1000], datum.value) >= 0", "value": 1}, "value": 0.7}}},
                "stroke": {"field": "method", "type": "nominal", "scale": {"domain": ["GUS-T", "GUS-P", "YEH"], "range": ["#1f77b4", "#ff7f0e", "#2ca02c"]}, "legend": null}
              }
            }
          ]
        },
        {
          "width": 390, "height": 176,
          "data": {"name": "edgesAll"},
          "encoding": {
            "x": {"field": "x", "type": "quantitative", "title": "# Edges |E|", "scale": {"domain": [-9.6, 218.2], "nice": false, "zero": false}, "axis": {"values": [0, 50, 100, 150, 200]}}
          },
          "layer": [
            {
              "mark": {"type": "area", "opacity": 0.2},
              "encoding": {
                "y": {"field": "lo", "type": "quantitative", "title": null, "scale": {"type": "log", "domain": [0.37, 3500], "nice": false},
                  "axis": {"values": [0.4, 0.5, 0.6, 0.7, 0.8, 0.9, 1, 2, 3, 4, 5, 6, 7, 8, 9, 10, 20, 30, 40, 50, 60, 70, 80, 90, 100, 200, 300, 400, 500, 600, 700, 800, 900, 1000, 2000, 3000], "labels": false,
                    "tickSize": {"condition": {"test": "indexof([1, 10, 100, 1000], datum.value) >= 0", "value": 4.5}, "value": 2.6},
                    "tickWidth": {"condition": {"test": "indexof([1, 10, 100, 1000], datum.value) >= 0", "value": 1}, "value": 0.7}}},
                "y2": {"field": "hi"},
                "fill": {"field": "method", "type": "nominal", "scale": {"domain": ["GUS-T", "GUS-P", "YEH"], "range": ["#1f77b4", "#ff7f0e", "#2ca02c"]}, "legend": null}
              }
            },
            {
              "mark": {"type": "line", "strokeWidth": 2.4},
              "encoding": {
                "y": {"field": "mean", "type": "quantitative", "title": null, "scale": {"type": "log", "domain": [0.37, 3500], "nice": false},
                  "axis": {"values": [0.4, 0.5, 0.6, 0.7, 0.8, 0.9, 1, 2, 3, 4, 5, 6, 7, 8, 9, 10, 20, 30, 40, 50, 60, 70, 80, 90, 100, 200, 300, 400, 500, 600, 700, 800, 900, 1000, 2000, 3000], "labels": false,
                    "tickSize": {"condition": {"test": "indexof([1, 10, 100, 1000], datum.value) >= 0", "value": 4.5}, "value": 2.6},
                    "tickWidth": {"condition": {"test": "indexof([1, 10, 100, 1000], datum.value) >= 0", "value": 1}, "value": 0.7}}},
                "stroke": {"field": "method", "type": "nominal", "scale": {"domain": ["GUS-T", "GUS-P", "YEH"], "range": ["#1f77b4", "#ff7f0e", "#2ca02c"]}, "legend": null}
              }
            }
          ]
        }
      ]
    }
  ],
  "spacing": 9,
  "resolve": {"legend": {"stroke": "independent"}}
}
